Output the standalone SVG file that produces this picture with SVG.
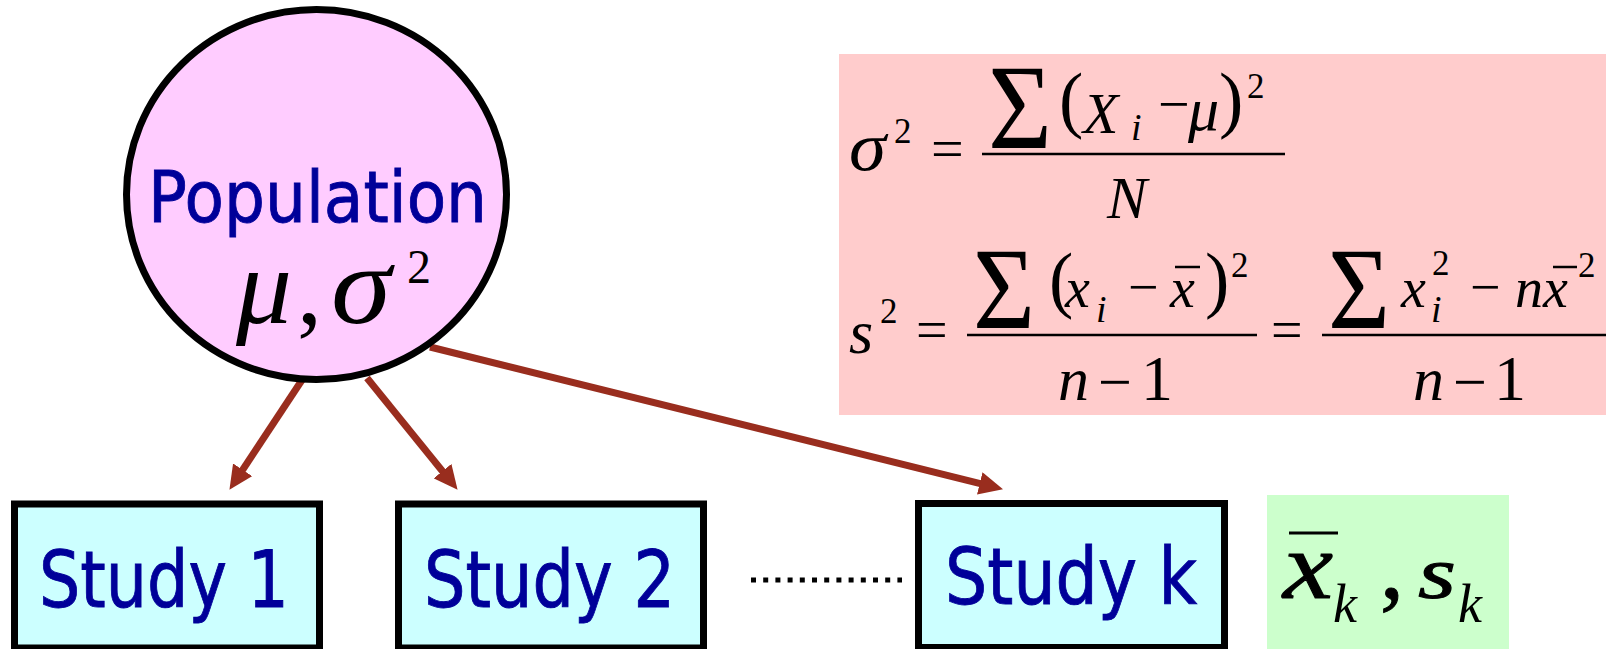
<svg xmlns="http://www.w3.org/2000/svg" width="1606" height="649" viewBox="0 0 1606 649">
<defs>
<style>
.lbl{font-family:"DejaVu Sans","Liberation Sans",sans-serif;fill:#000099;stroke:#000099;stroke-width:0.9}
.m{font-family:"Liberation Serif","Times New Roman",serif;fill:#000}
.mi{font-family:"Liberation Serif","Times New Roman",serif;font-style:italic;fill:#000}
.hv{stroke:#000;stroke-width:1}
.box{fill:#CCFFFF;stroke:#000;stroke-width:7}
.conn{stroke:#992D1E;stroke-width:7;fill:none}
.bar{stroke:#000;stroke-width:2.5}
</style>
<marker id="ah" markerUnits="userSpaceOnUse" viewBox="0 0 24 23" refX="11" refY="11.5" markerWidth="24" markerHeight="23" orient="auto">
<path d="M0,0 L24,11.5 L0,23 z" fill="#992D1E"/>
</marker>
</defs>
<rect width="1606" height="649" fill="#fff"/>

<g id="formula-box">
<rect x="839" y="54" width="767" height="361" fill="#FFCCCC"/>
<text class="mi" x="849" y="170" font-size="70" textLength="37" lengthAdjust="spacingAndGlyphs">σ</text>
<text class="m" x="894" y="143" font-size="35">2</text>
<text class="m" x="931" y="168" font-size="58">=</text>
<line class="bar" x1="982" y1="154" x2="1285" y2="154"/>
<text class="m" x="988" y="148" font-size="121" textLength="64" lengthAdjust="spacingAndGlyphs">Σ</text>
<text class="m" x="1059" y="124" font-size="73">(</text>
<text class="mi" x="1083" y="133" font-size="58">X</text>
<text class="mi" x="1131" y="140" font-size="38">i</text>
<text class="m" x="1158" y="123" font-size="56">−</text>
<text class="mi" x="1188" y="130" font-size="62">μ</text>
<text class="m" x="1219" y="124" font-size="73">)</text>
<text class="m" x="1247" y="98" font-size="35">2</text>
<text class="mi" x="1107" y="218" font-size="60">N</text>

<text class="mi" x="849" y="353" font-size="62">s</text>
<text class="m" x="880" y="323" font-size="35">2</text>
<text class="m" x="916" y="349" font-size="56">=</text>
<line class="bar" x1="967" y1="335" x2="1257" y2="335"/>
<text class="m" x="973" y="328" font-size="116" textLength="62" lengthAdjust="spacingAndGlyphs">Σ</text>
<text class="m" x="1049" y="304" font-size="73">(</text>
<text class="mi" x="1065" y="307" font-size="56">x</text>
<text class="mi" x="1096" y="322" font-size="38">i</text>
<text class="m" x="1128" y="305" font-size="54">−</text>
<text class="mi" x="1170" y="307" font-size="56">x</text>
<line class="bar" x1="1175" y1="267" x2="1200" y2="267"/>
<text class="m" x="1205" y="304" font-size="73">)</text>
<text class="m" x="1231" y="277" font-size="35">2</text>
<text class="mi" x="1058" y="400" font-size="62">n</text>
<text class="m" x="1098" y="402" font-size="60">−</text>
<text class="m" x="1141" y="400" font-size="64">1</text>
<text class="m" x="1271" y="349" font-size="56">=</text>
<line class="bar" x1="1322" y1="335" x2="1606" y2="335"/>
<text class="m" x="1328" y="328" font-size="116" textLength="62" lengthAdjust="spacingAndGlyphs">Σ</text>
<text class="mi" x="1401" y="307" font-size="56">x</text>
<text class="m" x="1432" y="275" font-size="35">2</text>
<text class="mi" x="1431" y="322" font-size="38">i</text>
<text class="m" x="1470" y="305" font-size="54">−</text>
<text class="mi" x="1515" y="307" font-size="56">n</text>
<text class="mi" x="1543" y="307" font-size="56">x</text>
<line class="bar" x1="1553" y1="267" x2="1577" y2="267"/>
<text class="m" x="1578" y="277" font-size="35">2</text>
<text class="mi" x="1413" y="400" font-size="62">n</text>
<text class="m" x="1453" y="402" font-size="60">−</text>
<text class="m" x="1494" y="400" font-size="64">1</text>
</g>

<g id="connectors">
<path class="conn" d="M302,380 L236.6,479" marker-end="url(#ah)"/>
<path class="conn" d="M367,378 L449.4,479.7" marker-end="url(#ah)"/>
<path class="conn" d="M430,347 L990.4,486.1" marker-end="url(#ah)"/>
</g>

<g id="population">
<ellipse cx="316.5" cy="194.5" rx="190" ry="185" fill="#FFCCFF" stroke="#000" stroke-width="7"/>
<text class="lbl" x="148" y="222" font-size="72" textLength="339" lengthAdjust="spacingAndGlyphs">Population</text>
<text class="mi" x="236" y="323" font-size="108" textLength="56" lengthAdjust="spacingAndGlyphs">μ</text>
<text class="m" x="297" y="323" font-size="100">,</text>
<text class="mi" x="331" y="323" font-size="112" textLength="60" lengthAdjust="spacingAndGlyphs">σ</text>
<text class="m" x="407" y="283" font-size="48">2</text>
</g>

<g id="study1">
<rect class="box" x="14.5" y="504" width="305" height="144"/>
<text class="lbl" x="39" y="607" font-size="78" textLength="250" lengthAdjust="spacingAndGlyphs">Study 1</text>
</g>
<g id="study2">
<rect class="box" x="398.5" y="504" width="305" height="144"/>
<text class="lbl" x="424" y="607" font-size="78" textLength="251" lengthAdjust="spacingAndGlyphs">Study 2</text>
</g>
<g id="ellipsis">
<line x1="751" y1="580" x2="902" y2="580" stroke="#000" stroke-width="5" stroke-dasharray="5 7.2"/>
</g>
<g id="studyk">
<rect class="box" x="918.5" y="503.5" width="306" height="144"/>
<text class="lbl" x="945" y="604" font-size="78" textLength="252" lengthAdjust="spacingAndGlyphs">Study k</text>
</g>
<g id="study-k-stats">
<rect x="1267" y="495" width="242" height="154" fill="#CCFFCC"/>
<text class="mi hv" x="1283" y="598" font-size="96" textLength="50" lengthAdjust="spacingAndGlyphs">x</text>
<line x1="1289" y1="533" x2="1338" y2="533" stroke="#000" stroke-width="3"/>
<text class="mi" x="1333" y="622" font-size="54">k</text>
<text class="m hv" x="1380" y="598" font-size="96">,</text>
<text class="mi hv" x="1418" y="598" font-size="74" textLength="38" lengthAdjust="spacingAndGlyphs">s</text>
<text class="mi" x="1458" y="622" font-size="54">k</text>
</g>
</svg>
